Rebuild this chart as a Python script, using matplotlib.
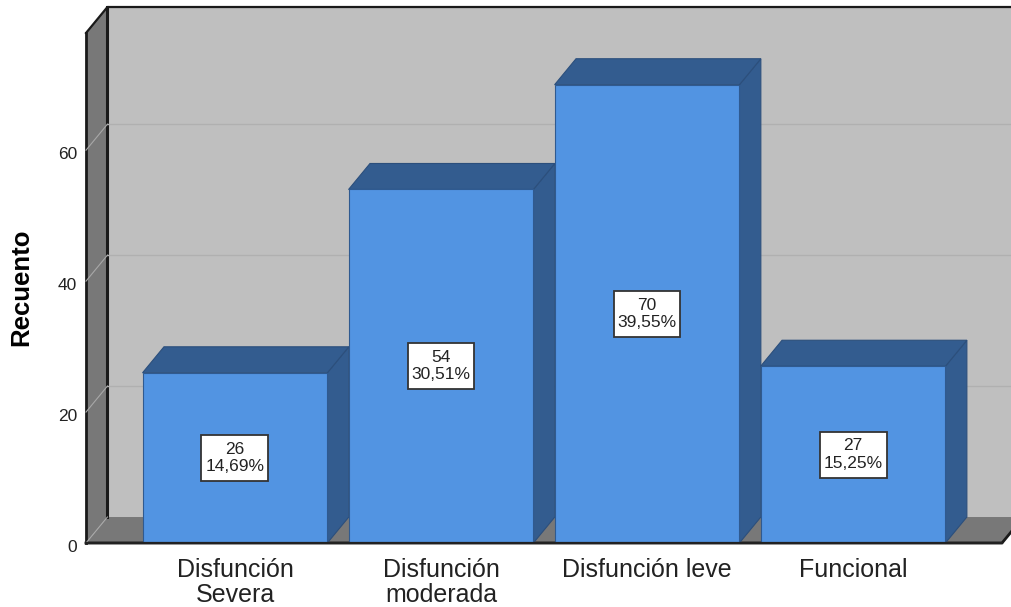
"""Bar chart with a drawn 3D box, counts per dysfunction level."""

import matplotlib

matplotlib.use("Agg")
import matplotlib.pyplot as plt
from matplotlib.patches import Polygon, Rectangle
from matplotlib.transforms import ScaledTranslation

categories = ["Disfunción\nSevera", "Disfunción\nmoderada", "Disfunción leve", "Funcional"]
counts = [26, 54, 70, 27]
percents = ["14,69%", "30,51%", "39,55%", "15,25%"]
y_ticks = [0, 20, 40, 60]

WALL = "#bfbfbf"
SIDE = "#787878"
BAR = "#5294e2"
BAR_DARK = "#335c8f"
EDGE = "#1a1a1a"

# depth of the fake 3D box, in data units
DX = 0.104
DY = 3.97
BAR_W = 0.897
LABEL_W = 0.325
LABEL_H = 7.0
X0, X1 = -0.723, 3.723
Y_MAX = 77.9

plt.rcParams["font.family"] = ["Liberation Sans", "DejaVu Sans"]

fig = plt.figure(figsize=(10.12, 6.07), dpi=100)
ax = fig.add_axes([86 / 1012, 64 / 607, 916 / 1012, 510 / 607])
ax.set_xlim(X0, X1)
ax.set_ylim(0, Y_MAX)
ax.patch.set_visible(False)
for spine in ax.spines.values():
    spine.set_visible(False)


def poly(points, color, edge=None, lw=0.0, z=1):
    ax.add_patch(Polygon(points, closed=True, facecolor=color, edgecolor=edge or color,
                         linewidth=lw, zorder=z, clip_on=False))


# back wall, left wall, floor
poly([(X0 + DX, DY), (X1 + DX, DY), (X1 + DX, Y_MAX + DY), (X0 + DX, Y_MAX + DY)], WALL)
poly([(X0, 0), (X0 + DX, DY), (X0 + DX, Y_MAX + DY), (X0, Y_MAX)], SIDE)
poly([(X0, 0), (X1, 0), (X1 + DX, DY), (X0 + DX, DY)], SIDE)

# box outline
ax.plot([X0 + DX, X0 + DX], [DY, Y_MAX + DY], color=EDGE, lw=2.2, zorder=2, clip_on=False)
ax.plot([X0, X0], [0, Y_MAX], color=EDGE, lw=2.0, zorder=2, clip_on=False)
ax.plot([X0, X0 + DX, X1 + DX], [Y_MAX, Y_MAX + DY, Y_MAX + DY], color=EDGE, lw=1.6, zorder=2, clip_on=False)
ax.plot([X0, X1, X1 + DX], [0, 0, DY], color=EDGE, lw=2.0, zorder=2, clip_on=False)

# gridlines on both walls
for tick in y_ticks:
    ax.plot([X0, X0 + DX], [tick, tick + DY], color="#a8a8a8", lw=0.8, zorder=3, clip_on=False)
    if tick > 0:
        ax.plot([X0 + DX, X1 + DX], [tick + DY, tick + DY], color="#b0b0b0", lw=1.0, zorder=3, clip_on=False)

# bars, left to right so that each one covers the side of the previous one
for i, (count, pct) in enumerate(zip(counts, percents)):
    left = i - BAR_W / 2
    right = i + BAR_W / 2
    poly([(right, 0), (right + DX, DY), (right + DX, count + DY), (right, count)], BAR_DARK, "#2c4f7c", 0.8, 4)
    poly([(left, count), (right, count), (right + DX, count + DY), (left + DX, count + DY)], BAR_DARK, "#2c4f7c", 0.8, 4)
    ax.bar(i, count, width=BAR_W, color=BAR, edgecolor="#2f5a90", linewidth=0.8, zorder=5)
    ax.add_patch(Rectangle((i - LABEL_W / 2, count / 2 - LABEL_H / 2), LABEL_W, LABEL_H,
                           facecolor="white", edgecolor="#333333", linewidth=1.3, zorder=6))
    ax.text(i, count / 2, f"{count}\n{pct}", ha="center", va="center", fontsize=12.5, color="#222222",
            linespacing=1.2, zorder=7)

ax.plot([X0, X1], [0, 0], color="#222222", lw=1.6, zorder=6, clip_on=False)

ax.set_xticks(range(len(categories)))
ax.set_xticklabels(categories, fontsize=18, color="#222222", linespacing=1.05)
ax.set_yticks(y_ticks)
ax.set_yticklabels([str(t) for t in y_ticks], fontsize=12.5, color="#222222")
ax.tick_params(axis="x", length=0, pad=10.5)
ax.tick_params(axis="y", length=0, pad=6.5)

# the value labels sit a little under their gridline ends
shift = ScaledTranslation(0, -2.5 / 100, fig.dpi_scale_trans)
for label in ax.get_yticklabels():
    label.set_transform(label.get_transform() + shift)

ax.set_ylabel("Recuento", fontsize=18.5, fontweight="bold", color="black", labelpad=0)
ax.yaxis.set_label_coords(-53 / 916, (543 - 287) / 510)

fig.savefig("out.png", dpi=100, facecolor="white")
